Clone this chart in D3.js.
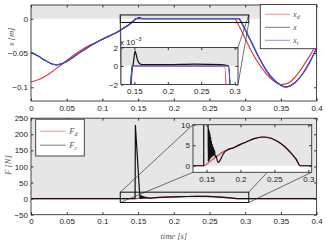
<!DOCTYPE html>
<html>
<head>
<meta charset="utf-8">
<script src="https://cdn.jsdelivr.net/npm/d3@7"></script>
<style>
  body { margin: 0; background: #fff; }
  svg { display: block; font-family: "Liberation Sans", Arial, sans-serif; }
  .tick text { font-size: 8px; fill: #222; }
  .tick line { stroke: #333; }
  .lab { font-family: "Liberation Serif", "DejaVu Serif", serif; font-style: italic; fill: #555; }
</style>
</head>
<body>
<div id="chart"></div>
<script>
// Values: [time (s), value]
var xdPts = [[0,-0.092],[0.01,-0.089],[0.02,-0.084],[0.03,-0.077],[0.04,-0.069],[0.05,-0.061],
  [0.06,-0.053],[0.07,-0.046],[0.08,-0.040],[0.09,-0.035],[0.1,-0.030],[0.11,-0.025],[0.12,-0.020],
  [0.13,-0.0135],[0.14,-0.0068],[0.145,-0.0022],[0.1475,0],[0.285,0],[0.29,-0.008],[0.30,-0.029],
  [0.31,-0.050],[0.32,-0.067],[0.33,-0.081],[0.34,-0.091],[0.35,-0.096],[0.36,-0.094],[0.37,-0.085],
  [0.38,-0.071],[0.39,-0.055],[0.40,-0.037]];

var xtPts = [[0,-0.049],[0.01,-0.0545],[0.02,-0.061],[0.03,-0.0662],[0.036,-0.0672],[0.04,-0.0665],
  [0.05,-0.0625],[0.06,-0.0555],[0.07,-0.0483],[0.08,-0.0415],[0.09,-0.0355],[0.1,-0.030],[0.11,-0.025],
  [0.12,-0.020],[0.13,-0.0135],[0.14,-0.0065],[0.1445,-0.002],[0.147,0],[0.291,0],[0.295,-0.006],
  [0.30,-0.016],[0.31,-0.037],[0.32,-0.058],[0.33,-0.076],[0.34,-0.089],[0.35,-0.097],[0.356,-0.0995],
  [0.36,-0.099],[0.37,-0.093],[0.38,-0.081],[0.39,-0.064],[0.40,-0.043]];

var xPts = [[0,-0.049],[0.01,-0.0545],[0.02,-0.061],[0.03,-0.0662],[0.036,-0.0672],[0.04,-0.0665],
  [0.05,-0.0625],[0.06,-0.0555],[0.07,-0.0483],[0.08,-0.0415],[0.09,-0.0355],[0.1,-0.030],[0.11,-0.025],
  [0.12,-0.020],[0.13,-0.0135],[0.14,-0.0065],[0.1445,-0.002],[0.147,0],[0.148,0.0001],[0.1495,0.0009],
  [0.151,0.0016],[0.1525,0.0013],[0.155,0.0006],[0.158,0.00025],[0.162,0.00015],[0.2,0.00015],
  [0.24,0.0002],[0.28,0.00015],[0.291,0],[0.295,-0.006],[0.30,-0.016],[0.31,-0.037],[0.32,-0.058],
  [0.33,-0.076],[0.34,-0.089],[0.35,-0.097],[0.356,-0.0995],[0.36,-0.099],[0.37,-0.093],[0.38,-0.081],
  [0.39,-0.064],[0.40,-0.043]];

var fdPts = [[0,0],[0.145,0],[0.16,1.7],[0.176,3.5],[0.19,4.4],[0.2,5.2],[0.21,5.9],[0.22,6.6],
  [0.232,7.0],[0.245,6.7],[0.255,5.9],[0.265,4.7],[0.275,3.0],[0.282,1.6],[0.288,0],[0.4,0]];

var fcPts = [[0,0],[0.1458,0],[0.1462,228],[0.1523,10],[0.1526,1],[0.1531,9],[0.1536,1.2],
  [0.1541,8.5],[0.1546,1.5],[0.1551,7.8],[0.1556,1.8],[0.1561,7],[0.1566,2],[0.1572,6],[0.1578,2.2],
  [0.1585,5.2],[0.1592,2.4],[0.16,4.5],[0.1608,2.5],[0.1617,3.8],[0.1627,2.2],[0.164,2.4],[0.1655,1.4],
  [0.167,0.8],[0.1695,1.2],[0.1725,2.2],[0.176,3.2],[0.18,3.8],[0.19,4.4],[0.2,5.2],[0.21,5.9],
  [0.22,6.6],[0.232,7.0],[0.245,6.7],[0.255,5.9],[0.265,4.7],[0.275,3.0],[0.282,1.6],[0.288,0],[0.4,0]];

// tick labels
var timeTicks = [0, 0.05, 0.1, 0.15, 0.2, 0.25, 0.3, 0.35, 0.4];
var posTicks = [-0.1, -0.05, 0];
var forceTicks = [-50, 0, 50, 100, 150, 200, 250];
var zoomTimeTicks = [0.15, 0.2, 0.25, 0.3];
var zoomPosTicks = [-0.002, 0, 0.002];
var zoomForceTicks = [0, 5, 10];

var posLegend = ["d", "", "t"];
var forceLegend = ["d", "c"];

var RED = "#f03a3a", BLUE = "#3a55f0", BLACK = "#111";
var GRAY = "#e6e6e6", INK = "#333";
// legend swatches are drawn thin and pale, as in the picture
var KEY_RED = "#ff8c8c", KEY_GRAY = "#777", KEY_BLUE = "#8c96ff";

var W = 326, H = 242;
var svg = d3.select("#chart").append("svg")
    .attr("width", W)
    .attr("height", H);

var fmt = d3.format("~g");
var clipId = 0;

// Build one axes box with the gray band above zero
function panel(box, xDom, yDom, xTicks, yTicks, yFmt) {
  var x = d3.scaleLinear().domain(xDom).range([box.l, box.r]);
  var y = d3.scaleLinear().domain(yDom).range([box.b, box.t]);
  var g = svg.append("g");

  g.append("rect")
      .attr("x", box.l).attr("y", box.t)
      .attr("width", box.r - box.l).attr("height", box.b - box.t)
      .attr("fill", "#fff");
  g.append("rect")
      .attr("x", box.l).attr("y", box.t)
      .attr("width", box.r - box.l).attr("height", y(0) - box.t)
      .attr("fill", GRAY);

  var id = "clip" + (clipId++);
  g.append("clipPath").attr("id", id)
    .append("rect")
      .attr("x", box.l).attr("y", box.t)
      .attr("width", box.r - box.l).attr("height", box.b - box.t);
  var plot = g.append("g").attr("clip-path", "url(#" + id + ")");

  // ticks point inward on all four sides
  g.append("g")
      .attr("transform", "translate(0," + box.b + ")")
      .call(d3.axisBottom(x).tickValues(xTicks).tickSize(-2.5).tickSizeOuter(0).tickPadding(4).tickFormat(fmt))
      .call(function(a) { a.select(".domain").remove(); });
  g.append("g")
      .attr("transform", "translate(0," + box.t + ")")
      .call(d3.axisTop(x).tickValues(xTicks).tickSize(-2.5).tickSizeOuter(0).tickFormat(""))
      .call(function(a) { a.select(".domain").remove(); });
  g.append("g")
      .attr("transform", "translate(" + box.l + ",0)")
      .call(d3.axisLeft(y).tickValues(yTicks).tickSize(-2.5).tickSizeOuter(0).tickPadding(3).tickFormat(yFmt || fmt))
      .call(function(a) { a.select(".domain").remove(); });
  g.append("g")
      .attr("transform", "translate(" + box.r + ",0)")
      .call(d3.axisRight(y).tickValues(yTicks).tickSize(-2.5).tickSizeOuter(0).tickFormat(""))
      .call(function(a) { a.select(".domain").remove(); });
  g.selectAll(".tick text").attr("font-size", 8).attr("font-family", "Liberation Sans, Arial, sans-serif");

  var frame = g.append("rect")
      .attr("x", box.l).attr("y", box.t)
      .attr("width", box.r - box.l).attr("height", box.b - box.t)
      .attr("fill", "none").attr("stroke", INK).attr("stroke-width", 0.9);

  return { x: x, y: y, g: g, plot: plot, frame: frame };
}

function series(p, pts, color, curve) {
  var line = d3.line()
      .x(function(d) { return p.x(d[0]); })
      .y(function(d) { return p.y(d[1]); })
      .curve(curve || d3.curveMonotoneX);
  p.plot.append("path")
      .datum(pts)
      .attr("d", line)
      .attr("fill", "none")
      .attr("stroke", color)
      .attr("stroke-width", 1.2)
      .attr("stroke-linejoin", "round");
}

// magnifier frame on the big axes and lines to the inset corners
function magnify(p, reg, box) {
  var x0 = p.x(reg.x[0]), x1 = p.x(reg.x[1]);
  var y0 = p.y(reg.y[1]), y1 = p.y(reg.y[0]);
  var links = [[x0, y0, box.l, box.t], [x0, y1, box.l, box.b],
               [x1, y0, box.r, box.t], [x1, y1, box.r, box.b]];
  svg.append("g").selectAll("line")
    .data(links).enter().append("line")
      .attr("x1", function(d) { return d[0]; })
      .attr("y1", function(d) { return d[1]; })
      .attr("x2", function(d) { return d[2]; })
      .attr("y2", function(d) { return d[3]; })
      .attr("stroke", INK).attr("stroke-width", 0.7);
  svg.append("rect")
      .attr("x", x0).attr("y", y0)
      .attr("width", x1 - x0).attr("height", y1 - y0)
      .attr("fill", "none").attr("stroke", BLACK).attr("stroke-width", 1);
}

function legend(box, entries) {
  var g = svg.append("g");
  g.append("rect")
      .attr("x", box.l).attr("y", box.t)
      .attr("width", box.w).attr("height", box.h)
      .attr("fill", "#fff").attr("stroke", INK).attr("stroke-width", 0.9);
  entries.forEach(function(e, i) {
    var yy = box.t + box.first + i * box.step;
    g.append("line")
        .attr("x1", box.l + box.pad).attr("x2", box.l + box.pad + box.len)
        .attr("y1", yy).attr("y2", yy)
        .attr("stroke", e.color).attr("stroke-width", 1);
    var t = g.append("text")
        .attr("class", "lab")
        .attr("x", box.l + box.pad + box.len + box.gap)
        .attr("y", yy + 2.5)
        .attr("font-size", 8.5);
    t.append("tspan").text(e.sym);
    if (e.sub) {
      t.append("tspan").attr("font-size", 6).attr("dy", 2).text(e.sub);
    }
  });
}

// ---------- top: positions ----------
var topBox = { l: 31, r: 316.6, t: 5, b: 101 };
var posPanel = panel(topBox, [0, 0.4], [-0.12, 0.02], timeTicks, posTicks);
series(posPanel, xdPts, RED);
series(posPanel, xPts, BLACK);
series(posPanel, xtPts, BLUE);

var topZoomBox = { l: 121, r: 238, t: 47.5, b: 84.5 };
magnify(posPanel, { x: [0.125, 0.305], y: [-0.0055, 0.0055] }, topZoomBox);

var posZoom = panel(topZoomBox, [0.13, 0.305], [-0.002, 0.002], zoomTimeTicks, zoomPosTicks,
  function(d) { return fmt(d * 1000); });
series(posZoom, xdPts, RED);
series(posZoom, xPts, BLACK);
series(posZoom, xtPts, BLUE);

var expo = svg.append("text")
    .attr("x", 120).attr("y", 44.5)
    .attr("font-size", 8).attr("fill", "#222");
expo.append("tspan").text("x 10");
expo.append("tspan").attr("font-size", 5.5).attr("dy", -3.5).text("\u22123");

svg.append("text")
    .attr("class", "lab")
    .attr("transform", "translate(13.5,37) rotate(-90)")
    .attr("text-anchor", "middle")
    .attr("font-size", 8.5)
    .text("x [m]");

legend({ l: 260.3, t: 4.5, w: 56.3, h: 44.2, first: 9.8, step: 13, pad: 4.7, len: 25, gap: 3 },
  posLegend.map(function(s, i) {
    return { sym: "x", sub: s, color: [KEY_RED, KEY_GRAY, KEY_BLUE][i] };
  }));

// ---------- bottom: forces ----------
var botBox = { l: 31, r: 316.6, t: 118.2, b: 214.7 };
var forcePanel = panel(botBox, [0, 0.4], [-50, 250], timeTicks, forceTicks);
series(forcePanel, fdPts, RED, d3.curveLinear);
series(forcePanel, fcPts, BLACK, d3.curveLinear);

var botZoomBox = { l: 193, r: 311.7, t: 124.7, b: 172.3 };
magnify(forcePanel, { x: [0.125, 0.305], y: [-12, 20] }, botZoomBox);

var forceZoom = panel(botZoomBox, [0.13, 0.305], [-1.6, 10], zoomTimeTicks, zoomForceTicks);
series(forceZoom, fdPts, RED, d3.curveMonotoneX);
series(forceZoom, fcPts, BLACK, d3.curveMonotoneX);

svg.append("text")
    .attr("class", "lab")
    .attr("transform", "translate(10.5,165) rotate(-90)")
    .attr("text-anchor", "middle")
    .attr("font-size", 8.5)
    .text("F [N]");

svg.append("text")
    .attr("class", "lab")
    .attr("x", 173.8).attr("y", 238.5)
    .attr("text-anchor", "middle")
    .attr("font-size", 8.5)
    .text("time [s]");

legend({ l: 35.7, t: 119.2, w: 48.6, h: 36.8, first: 12, step: 14, pad: 4.3, len: 25.7, gap: 3.5 },
  forceLegend.map(function(s, i) {
    return { sym: "F", sub: s, color: [KEY_RED, KEY_GRAY][i] };
  }));
</script>
</body>
</html>
